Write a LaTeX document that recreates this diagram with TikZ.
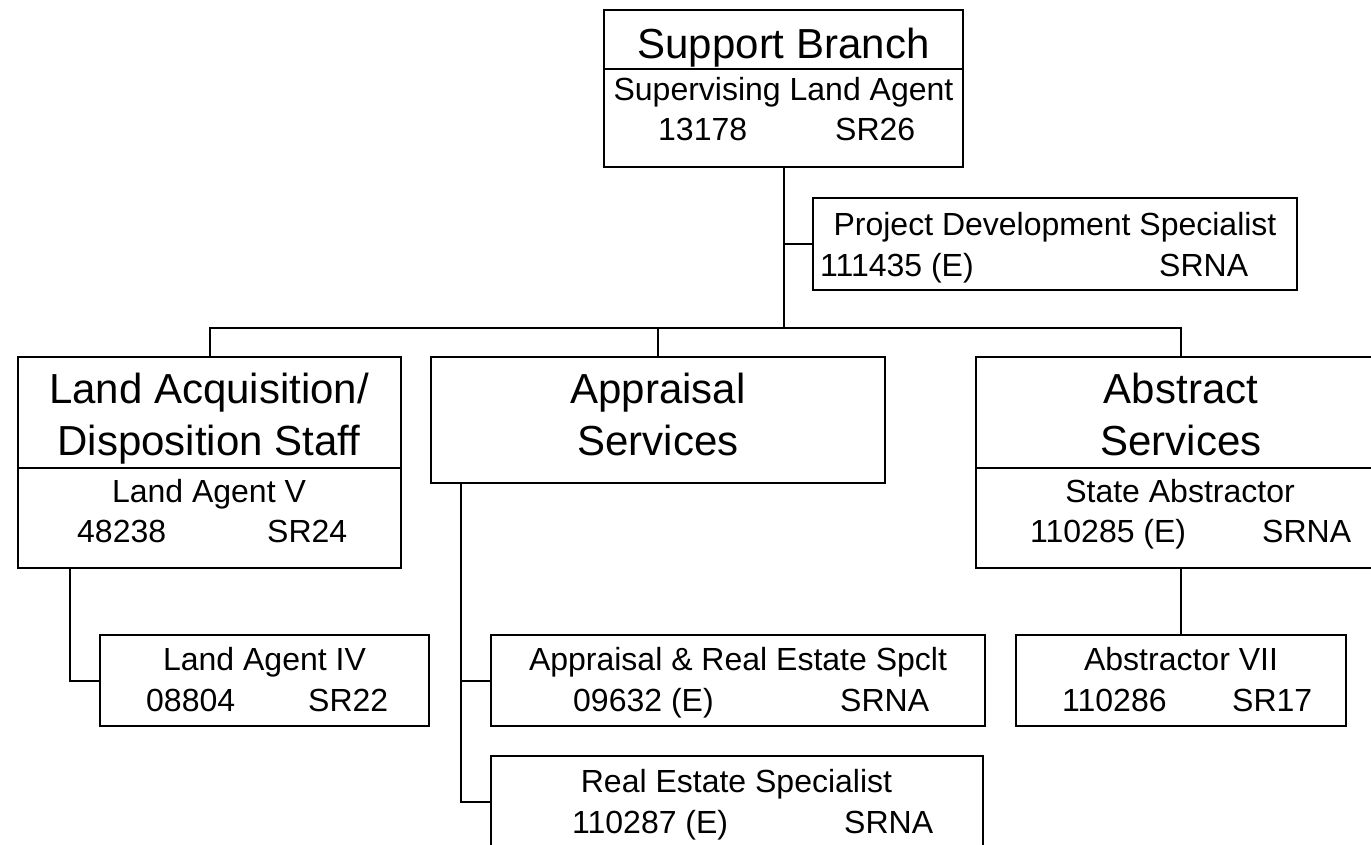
\documentclass[tikz,border=0pt]{standalone}
\usepackage{fontspec}
\setmainfont{Liberation Sans}
\tikzset{
  box/.style={draw, line width=2pt, rectangle, inner sep=0pt, outer sep=0pt, anchor=north west},
  big/.style={anchor=base, inner sep=0pt, font=\fontsize{42}{50}\selectfont},
  small/.style={anchor=base, inner sep=0pt, font=\fontsize{32}{38}\selectfont},
  smallL/.style={small, anchor=base west},
  link/.style={line width=2pt},
}
\begin{document}
\begin{tikzpicture}[x=1pt,y=-1pt]
\useasboundingbox (0,0) rectangle (1371,844);
\clip (0,0) rectangle (1371,844);

% boxes
\node[box, minimum width=359pt, minimum height=157pt] (sb) at (604,10) {};
\node[box, minimum width=484pt, minimum height=92pt] (pd) at (813,198) {};
\node[box, minimum width=383pt, minimum height=211pt] (la) at (18,357) {};
\node[box, minimum width=329pt, minimum height=91pt] (la4) at (100,635) {};
\node[box, minimum width=454pt, minimum height=126pt] (ap) at (431,357) {};
\node[box, minimum width=494pt, minimum height=91pt] (ars) at (491,635) {};
\node[box, minimum width=492pt, minimum height=91pt] (res) at (491,756) {};
\node[box, minimum width=410pt, minimum height=211pt] (ab) at (976,357) {};
\node[box, minimum width=330pt, minimum height=91pt] (ab7) at (1016,635) {};

% dividers
\draw[link] (sb.west |- 0,69) -- (sb.east |- 0,69);
\draw[link] (la.west |- 0,468) -- (la.east |- 0,468);
\draw[link] (ab.west |- 0,468) -- (ab.east |- 0,468);

% texts
\node[big] (t1) at (783.5,58) {Support Branch};
\node[small] (t2) at (783.5,100) {Supervising Land Agent};
\node[smallL] (t3) at (658,140) {13178};
\node[smallL] (t4) at (835,140) {SR26};

\node[small] (t5) at (1055,235) {Project Development Specialist};
\node[smallL] (t6) at (820,276) {111435 (E)};
\node[smallL] (t7) at (1159,276) {SRNA};

\node[big] (t8) at (209,403) {Land Acquisition/};
\node[big] (t9) at (209,455) {Disposition Staff};
\node[small] (t10) at (209,502) {Land Agent V};
\node[smallL] (t11) at (77,542) {48238};
\node[smallL] (t12) at (267,542) {SR24};

\node[small] (t13) at (264.5,670) {Land Agent IV};
\node[smallL] (t14) at (146,711) {08804};
\node[smallL] (t15) at (308,711) {SR22};

\node[big] (t16) at (658,403) {Appraisal};
\node[big] (t17) at (658,455) {Services};

\node[small] (t18) at (738,670) {Appraisal \& Real Estate Spclt};
\node[smallL] (t19) at (573,711) {09632 (E)};
\node[smallL] (t20) at (840,711) {SRNA};

\node[small] (t21) at (736.5,792) {Real Estate Specialist};
\node[smallL] (t22) at (572,833) {110287 (E)};
\node[smallL] (t23) at (844,833) {SRNA};

\node[big] (t24) at (1181,403) {Abstract};
\node[big] (t25) at (1181,455) {Services};
\node[small] (t26) at (1180,502) {State Abstractor};
\node[smallL] (t27) at (1030,542) {110285 (E)};
\node[smallL] (t28) at (1262,542) {SRNA};

\node[small] (t29) at (1181,670) {Abstractor VII};
\node[smallL] (t30) at (1062,711) {110286};
\node[smallL] (t31) at (1232,711) {SR17};

% connectors
\coordinate (bus) at (784,328);
\draw[link] (sb.south) -- (sb.south |- bus);
\draw[link] (pd.west) -- (pd.west -| sb.south);
\draw[link] (la.north) |- (bus) -| (ab.north);
\draw[link] (ap.north) -- (ap.north |- bus);
\coordinate (lav) at ([xshift=52pt]la.south west);
\draw[link] (lav) |- (la4.west);
\coordinate (apv) at ([xshift=30pt]ap.south west);
\draw[link] (apv) |- (res.west);
\draw[link] (ars.west) -- (ars.west -| apv);
\draw[link] (ab.south) -- (ab7.north);
\end{tikzpicture}
\end{document}
